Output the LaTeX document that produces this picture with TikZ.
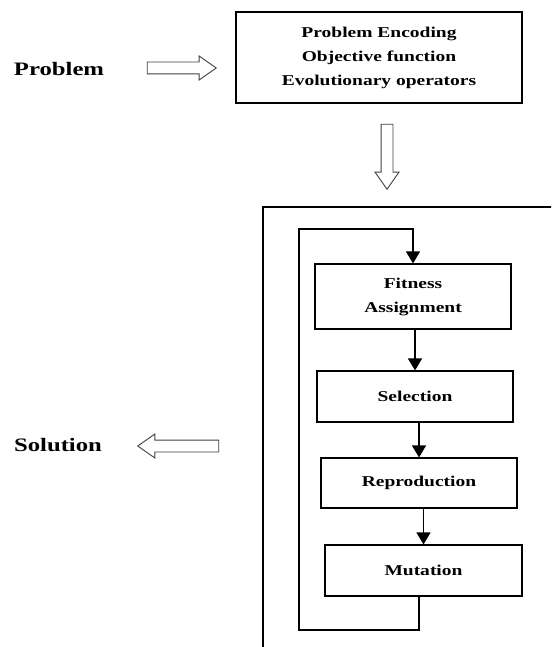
\documentclass[tikz,border=0pt]{standalone}
\usepackage{fontspec}
\setmainfont[FakeStretch=1.3]{Liberation Serif}
\usetikzlibrary{arrows.meta,shapes.arrows}

\begin{document}
\begin{tikzpicture}[
    x=1pt, y=-1pt,
    stagebox/.style={rectangle, draw, line width=1.1pt, align=center, inner sep=0pt, font=\fontsize{15}{24}\selectfont\bfseries},
    label/.style={font=\fontsize{19}{22}\selectfont\bfseries},
    bigarrow/.style={single arrow, draw=black!75, fill=white, line width=0.9pt, inner sep=0pt, inner ysep=5.5pt,
        single arrow head extend=6pt, single arrow tip angle=70},
    arrow/.style={-{Triangle[width=14pt,length=12pt]}, line width=1.1pt}
]
    \useasboundingbox (0,0) rectangle (551,647);
    \clip (0,0) rectangle (551,647);

    % Input side
    \node[label] (problem) at (59,69) {Problem};
    \node[stagebox, minimum width=286, minimum height=91] (setup) at (379,57.5)
        {Problem Encoding\\Objective function\\Evolutionary operators};
    \node[bigarrow, minimum height=69] (inarrow) at (177.5,68) {};
    \node[bigarrow, minimum height=65, rotate=-90] (downarrow) at (387,152.5) {};

    % Outer frame (cut by the page edge)
    \draw[line width=1.1pt] (263,700) -- (263,207) -- (600,207);

    % Loop stages
    \node[stagebox, minimum width=196, minimum height=65] (fitness) at (413,296.5) {Fitness\\Assignment};
    \node[stagebox, minimum width=196, minimum height=51] (selection) at (415,396.5) {Selection};
    \node[stagebox, minimum width=196, minimum height=50] (reproduction) at (419,483) {Reproduction};
    \node[stagebox, minimum width=197, minimum height=51] (mutation) at (423.5,570.5) {Mutation};

    \draw[arrow] (selection.north |- fitness.south) -- (selection.north);
    \draw[arrow] (reproduction.north |- selection.south) -- (reproduction.north);
    \draw[arrow] (mutation.north |- reproduction.south) -- (mutation.north);

    % Loop back
    \coordinate (loopdown) at (419,630);
    \coordinate (loopup) at (299,229);
    \draw[arrow] (mutation.south -| loopdown) -- (loopdown) -| (loopup) -- (fitness.north |- loopup) -- (fitness.north);

    % Output
    \node[label] (solution) at (58,445) {Solution};
    \node[bigarrow, minimum height=81, shape border rotate=180] (outarrow) at (182.5,446) {};
\end{tikzpicture}
\end{document}
